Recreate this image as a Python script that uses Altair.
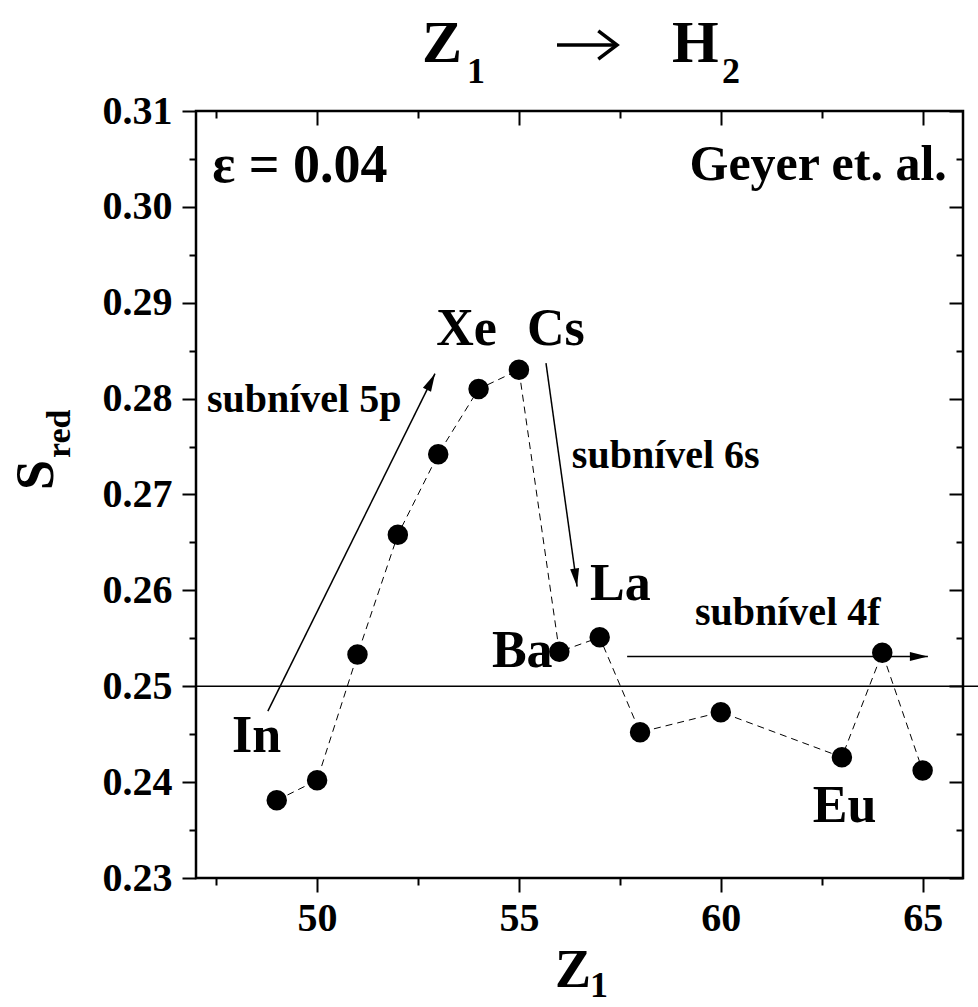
import math
import altair as alt
import pandas as pd

# Reduced stopping S_red of heavy ions Z1 = 49..65 in H2 (epsilon = 0.04)
z1 = [49, 50, 51, 52, 53, 54, 55, 56, 57, 58, 60, 63, 64, 65]
s_red = [0.2381, 0.2402, 0.2533, 0.2658, 0.2742, 0.2810, 0.2830,
         0.2536, 0.2551, 0.2452, 0.2473, 0.2426, 0.2535, 0.2412]

# element names next to selected points (left edge, baseline)
elements = ["In", "Xe", "Cs", "Ba", "La", "Eu"]
element_z = [47.89, 52.95, 55.20, 54.33, 56.76, 62.28]
element_s = [0.2431, 0.2856, 0.2856, 0.2520, 0.2590, 0.2358]

# sub-shell annotations
shells = ["subnível 5p", "subnível 6s", "subnível 4f"]
shell_z = [47.27, 56.31, 59.36]
shell_s = [0.2786, 0.2728, 0.2564]

# arrows: tail (z0, s0) -> head (z1, s1)
arrow_z0 = [48.78, 55.67, 57.68]
arrow_s0 = [0.2474, 0.2837, 0.2531]
arrow_z1 = [52.92, 56.44, 65.13]
arrow_s1 = [0.2826, 0.2604, 0.2531]

# reference level S_red = 0.25
ref_level = [0.25]
ref_span = [47.0, 66.4]

# corner notes
notes = ["ε = 0.04", "Geyer et. al."]
note_z = [47.40, 65.60]
note_s = [0.3026, 0.3028]

x_domain = [47, 66]
y_domain = [0.23, 0.31]
x_ticks = [47.5, 50, 52.5, 55, 57.5, 60, 62.5, 65]
y_ticks = [0.230, 0.235, 0.240, 0.245, 0.250, 0.255, 0.260, 0.265, 0.270,
           0.275, 0.280, 0.285, 0.290, 0.295, 0.300, 0.305, 0.310]

W = H = 767
FONT = "Liberation Serif"

x_scale = alt.Scale(domain=x_domain, nice=False, zero=False)
y_scale = alt.Scale(domain=y_domain, nice=False, zero=False)

x_major = "datum.value % 5 === 0"
y_major = "round(datum.value * 200) % 2 === 0"


def tick_len(test):
    return {"condition": {"test": test, "value": 14}, "value": 7}


common = dict(grid=False, domain=False, title=None, tickColor="black", tickWidth=2,
              labelFont=FONT, labelFontWeight="bold", labelFontSize=40,
              labelColor="black")

x_axis_bottom = alt.Axis(orient="bottom", values=x_ticks, tickSize=tick_len(x_major),
                         labelExpr=f"{x_major} ? format(datum.value, 'd') : ''",
                         labelPadding=6, **common)
y_axis_left = alt.Axis(orient="left", values=y_ticks, tickSize=tick_len(y_major),
                       labelExpr=f"{y_major} ? format(datum.value, '.2f') : ''",
                       labelPadding=10, **common)
# mirrored axes on the top and right edges, ticks pointing inwards
x_axis_top = alt.Axis(orient="bottom", offset=-H, values=x_ticks, tickSize=tick_len(x_major),
                      labels=False, **common)
y_axis_right = alt.Axis(orient="left", offset=-W, values=y_ticks, tickSize=tick_len(y_major),
                        labels=False, **common)

pts = pd.DataFrame({"Z1": z1, "S": s_red})

line = alt.Chart(pts).mark_line(color="black", strokeWidth=1, strokeDash=[7, 5]).encode(
    x=alt.X("Z1:Q", scale=x_scale, axis=x_axis_bottom),
    y=alt.Y("S:Q", scale=y_scale, axis=y_axis_left),
)

dots = alt.Chart(pts).mark_circle(color="black", opacity=1, size=420).encode(
    x=alt.X("Z1:Q", axis=None),
    y=alt.Y("S:Q", axis=None),
)

ref = alt.Chart(pd.DataFrame({"z0": [ref_span[0]], "z1": [ref_span[1]], "s": ref_level})).mark_rule(
    color="black", strokeWidth=1.5).encode(
    x=alt.X("z0:Q", axis=x_axis_top),
    x2="z1:Q",
    y=alt.Y("s:Q", axis=y_axis_right),
)

# arrow shafts and heads
px_per_z = W / (x_domain[1] - x_domain[0])
px_per_s = H / (y_domain[1] - y_domain[0])
angles = []
for a, b, c, d in zip(arrow_z0, arrow_s0, arrow_z1, arrow_s1):
    dx = (c - a) * px_per_z
    dy = -(d - b) * px_per_s
    angles.append((math.degrees(math.atan2(dx, -dy)) + 360) % 360)

arrows = pd.DataFrame({"z0": arrow_z0, "s0": arrow_s0, "z1": arrow_z1, "s1": arrow_s1,
                       "angle": angles})

shafts = alt.Chart(arrows).mark_rule(color="black", strokeWidth=1.5).encode(
    x=alt.X("z0:Q", axis=None), y=alt.Y("s0:Q", axis=None), x2="z1:Q", y2="s1:Q")

heads = alt.Chart(arrows).mark_point(
    shape="M0,0L-0.25,1L0.25,1Z", filled=True, color="black", opacity=1, size=1300,
).encode(
    x=alt.X("z1:Q", axis=None), y=alt.Y("s1:Q", axis=None),
    angle=alt.Angle("angle:Q", scale=None),
)

elem_df = pd.DataFrame({"name": elements, "z": element_z, "s": element_s})
elem_text = alt.Chart(elem_df).mark_text(
    font=FONT, fontWeight="bold", fontSize=52, align="left", baseline="alphabetic", color="black",
).encode(x=alt.X("z:Q", axis=None), y=alt.Y("s:Q", axis=None), text="name:N")

shell_df = pd.DataFrame({"name": shells, "z": shell_z, "s": shell_s})
shell_text = alt.Chart(shell_df).mark_text(
    font=FONT, fontWeight="bold", fontSize=40, align="left", baseline="alphabetic", color="black",
).encode(x=alt.X("z:Q", axis=None), y=alt.Y("s:Q", axis=None), text="name:N")

note_df = pd.DataFrame({"name": notes, "z": note_z, "s": note_s})
eps = alt.Chart(note_df.iloc[[0]]).mark_text(
    font=FONT, fontWeight="bold", fontSize=54, align="left", baseline="alphabetic", color="black",
).encode(x=alt.X("z:Q", axis=None), y=alt.Y("s:Q", axis=None), text="name:N")
geyer = alt.Chart(note_df.iloc[[1]]).mark_text(
    font=FONT, fontWeight="bold", fontSize=50, align="right", baseline="alphabetic", color="black",
).encode(x=alt.X("z:Q", axis=None), y=alt.Y("s:Q", axis=None), text="name:N")

one = alt.Data(values=[{}])


def label(text, x, y, size, align="left", angle=0):
    kw = dict(text=text, font=FONT, fontWeight="bold", fontSize=size, align=align,
              baseline="alphabetic", color="black")
    if angle:
        kw["angle"] = angle
    return alt.Chart(one).mark_text(**kw).encode(x=alt.value(x), y=alt.value(y))


# title  Z1 -> H2, with a drawn arrow between the two symbols
title_arrow = alt.Chart(one).mark_rule(color="black", strokeWidth=3.5).encode(
    x=alt.value(361), x2=alt.value(419), y=alt.value(-66))
title_head = alt.Chart(one).mark_point(
    shape="M-1,-0.75L0,0L-1,0.75", filled=False, color="black", opacity=1,
    strokeWidth=3.5, size=1400, strokeJoin="miter",
).encode(x=alt.value(421), y=alt.value(-66))

title_parts = [
    label("Z", 226, -49, 60),
    label("1", 271, -28, 36),
    title_arrow,
    title_head,
    label("H", 476, -49, 60),
    label("2", 526, -28, 36),
]
# axis titles  Z1  and  S_red
axis_titles = [
    label("Z", 359, 876, 54),
    label("1", 394, 886, 36),
    label("S", -143, 379, 54, angle=270),
    label("red", -126, 347, 34, angle=270),
]

chart = alt.layer(
    line, ref, dots, shafts, heads, elem_text, shell_text, eps, geyer,
    *title_parts, *axis_titles,
).resolve_axis(x="independent", y="independent").properties(
    width=W, height=H,
    autosize=alt.AutoSizeParams(type="none"),
    padding={"left": 196, "top": 111, "right": 15, "bottom": 129},
    background="white",
).configure_view(stroke="black", strokeWidth=2.5)

chart.save("out.html", embed_options={"renderer": "svg", "actions": False})
